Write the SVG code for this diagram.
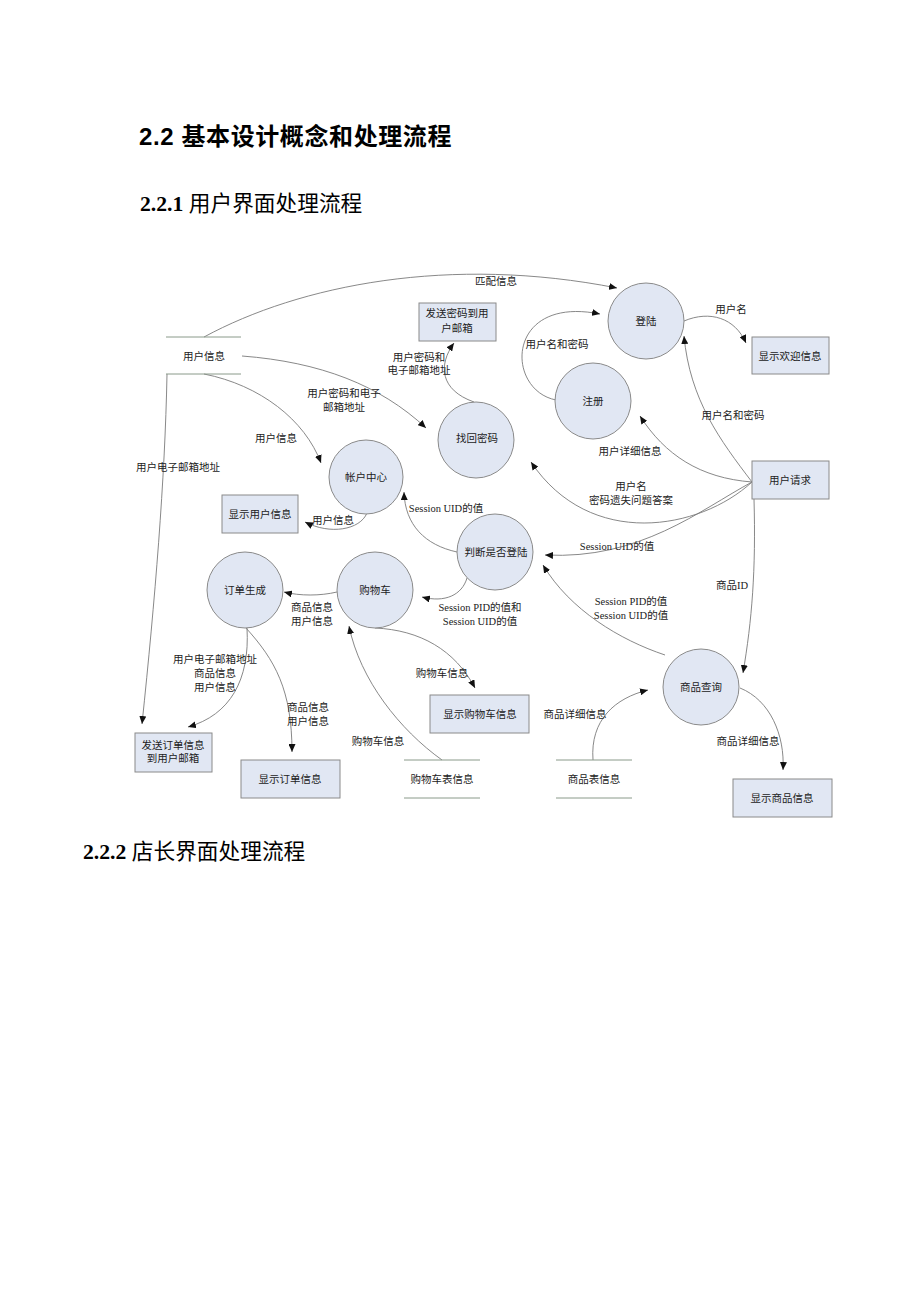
<svg xmlns="http://www.w3.org/2000/svg" width="920" height="1302" viewBox="0 0 920 1302">
<defs>
<marker id="ah" markerWidth="8" markerHeight="7" refX="8" refY="3.5" orient="auto" markerUnits="userSpaceOnUse">
<path d="M0,0 L8,3.5 L0,7 z" fill="#111"/>
</marker>
<style>
.p{fill:#e1e7f3;stroke:#8a8a8a;stroke-width:1}
.b{fill:#e1e7f3;stroke:#8a8a8a;stroke-width:1}
.s{stroke:#8a9a8a;stroke-width:1;fill:none}
.c{fill:none;stroke:#7a7a7a;stroke-width:0.9;marker-end:url(#ah)}
.t{font-family:"Liberation Serif","Noto Sans CJK SC",serif;font-size:10.5px;fill:#222;text-anchor:middle}
.h1{font-family:"Liberation Sans","Noto Sans CJK SC",sans-serif;font-size:24px;letter-spacing:0.6px;font-weight:bold;fill:#000}
.h2{font-family:"Liberation Serif","Noto Sans CJK SC",serif;font-size:21.7px;fill:#000}
</style>
</defs>
<rect width="920" height="1302" fill="#fff"/>
<text class="h1" x="139" y="145">2.2 基本设计概念和处理流程</text>
<text class="h2" x="140" y="211"><tspan font-weight="bold">2.2.1</tspan> 用户界面处理流程</text>
<text class="h2" x="83" y="859"><tspan font-weight="bold">2.2.2</tspan> 店长界面处理流程</text>

<g id="connectors">
<path class="c" d="M204,337 C300,285 450,255 617,288"/>
<path class="c" d="M242,356 C320,362 380,385 426,428"/>
<path class="c" d="M204,374 C260,385 305,420 321,463"/>
<path class="c" d="M167,374 C165,480 155,600 142,724"/>
<path class="c" d="M474,402 C440,390 438,365 454,343"/>
<path class="c" d="M556,400 C505,390 505,295 600,314"/>
<path class="c" d="M684,321 C710,310 735,318 746,343"/>
<path class="c" d="M752,482 C720,440 690,400 684,336"/>
<path class="c" d="M752,482 C700,478 665,455 640,416"/>
<path class="c" d="M752,482 C700,530 590,550 531,462"/>
<path class="c" d="M752,482 C700,510 640,560 545,555"/>
<path class="c" d="M754,499 C756,570 752,620 743,673"/>
<path class="c" d="M665,655 C620,640 570,610 543,565"/>
<path class="c" d="M740,688 C770,700 785,735 783,770"/>
<path class="c" d="M593,760 C590,720 615,698 648,690"/>
<path class="c" d="M457,552 C425,545 405,525 404,492"/>
<path class="c" d="M467,578 C462,595 445,603 422,597"/>
<path class="c" d="M367,513 C360,530 330,535 305,522"/>
<path class="c" d="M337,592 C320,596 300,596 284,592"/>
<path class="c" d="M247,628 C250,680 230,715 188,727"/>
<path class="c" d="M246,628 C275,660 292,690 292,752"/>
<path class="c" d="M375,628 C420,630 455,650 475,688"/>
<path class="c" d="M442,760 C400,730 360,680 349,626"/>
</g>

<g id="labels">
<text class="t" x="496" y="285">匹配信息</text>
<text class="t" x="731" y="313">用户名</text>
<text class="t" x="557" y="348">用户名和密码</text>
<text class="t" x="344" y="397">用户密码和电子</text>
<text class="t" x="344" y="411">邮箱地址</text>
<text class="t" x="419" y="361">用户密码和</text>
<text class="t" x="419" y="374">电子邮箱地址</text>
<text class="t" x="733" y="419">用户名和密码</text>
<text class="t" x="630" y="455">用户详细信息</text>
<text class="t" x="631" y="490">用户名</text>
<text class="t" x="631" y="504">密码遗失问题答案</text>
<text class="t" x="276" y="442">用户信息</text>
<text class="t" x="178" y="471">用户电子邮箱地址</text>
<text class="t" x="333" y="524">用户信息</text>
<text class="t" x="446" y="512">Session UID的值</text>
<text class="t" x="617" y="550">Session UID的值</text>
<text class="t" x="312" y="611">商品信息</text>
<text class="t" x="312" y="625">用户信息</text>
<text class="t" x="480" y="611">Session PID的值和</text>
<text class="t" x="480" y="625">Session UID的值</text>
<text class="t" x="732" y="589">商品ID</text>
<text class="t" x="631" y="605">Session PID的值</text>
<text class="t" x="631" y="619">Session UID的值</text>
<text class="t" x="215" y="663">用户电子邮箱地址</text>
<text class="t" x="215" y="677">商品信息</text>
<text class="t" x="215" y="691">用户信息</text>
<text class="t" x="442" y="677">购物车信息</text>
<text class="t" x="308" y="711">商品信息</text>
<text class="t" x="308" y="725">用户信息</text>
<text class="t" x="575" y="718">商品详细信息</text>
<text class="t" x="748" y="745">商品详细信息</text>
<text class="t" x="378" y="745">购物车信息</text>
</g>

<g id="n-login"><circle class="p" cx="646" cy="321" r="38"/><text class="t" x="646" y="325">登陆</text></g>
<g id="n-register"><circle class="p" cx="593" cy="401" r="38"/><text class="t" x="593" y="405">注册</text></g>
<g id="n-findpwd"><circle class="p" cx="476" cy="440" r="38"/><text class="t" x="477" y="442">找回密码</text></g>
<g id="n-account"><circle class="p" cx="366" cy="477" r="37"/><text class="t" x="366" y="481">帐户中心</text></g>
<g id="n-checklogin"><circle class="p" cx="495" cy="552" r="38"/><text class="t" x="496" y="556">判断是否登陆</text></g>
<g id="n-cart"><circle class="p" cx="375" cy="590" r="38"/><text class="t" x="375" y="594">购物车</text></g>
<g id="n-order"><circle class="p" cx="245" cy="590" r="38"/><text class="t" x="245" y="594">订单生成</text></g>
<g id="n-search"><circle class="p" cx="701" cy="687" r="38"/><text class="t" x="701" y="691">商品查询</text></g>

<g id="n-sendpwd"><rect class="b" x="419" y="303" width="77" height="38"/><text class="t" x="457" y="317">发送密码到用</text><text class="t" x="457" y="332">户邮箱</text></g>
<g id="n-welcome"><rect class="b" x="752" y="337" width="77" height="37"/><text class="t" x="790" y="360">显示欢迎信息</text></g>
<g id="n-request"><rect class="b" x="752" y="461" width="77" height="38"/><text class="t" x="790" y="484">用户请求</text></g>
<g id="n-showuser"><rect class="b" x="222" y="495" width="76" height="38"/><text class="t" x="260" y="518">显示用户信息</text></g>
<g id="n-sendorder"><rect class="b" x="135" y="733" width="77" height="39"/><text class="t" x="173" y="749">发送订单信息</text><text class="t" x="173" y="762">到用户邮箱</text></g>
<g id="n-showorder"><rect class="b" x="241" y="760" width="99" height="38"/><text class="t" x="290" y="783">显示订单信息</text></g>
<g id="n-showcart"><rect class="b" x="430" y="695" width="99" height="38"/><text class="t" x="480" y="718">显示购物车信息</text></g>
<g id="n-showgoods"><rect class="b" x="733" y="779" width="99" height="38"/><text class="t" x="782" y="802">显示商品信息</text></g>

<g id="n-userstore"><line class="s" x1="166" y1="337" x2="241" y2="337"/><line class="s" x1="166" y1="374" x2="241" y2="374"/><text class="t" x="204" y="360">用户信息</text></g>
<g id="n-cartstore"><line class="s" x1="404" y1="760" x2="480" y2="760"/><line class="s" x1="404" y1="798" x2="480" y2="798"/><text class="t" x="442" y="783">购物车表信息</text></g>
<g id="n-goodsstore"><line class="s" x1="556" y1="760" x2="632" y2="760"/><line class="s" x1="556" y1="798" x2="632" y2="798"/><text class="t" x="594" y="783">商品表信息</text></g>
</svg>
